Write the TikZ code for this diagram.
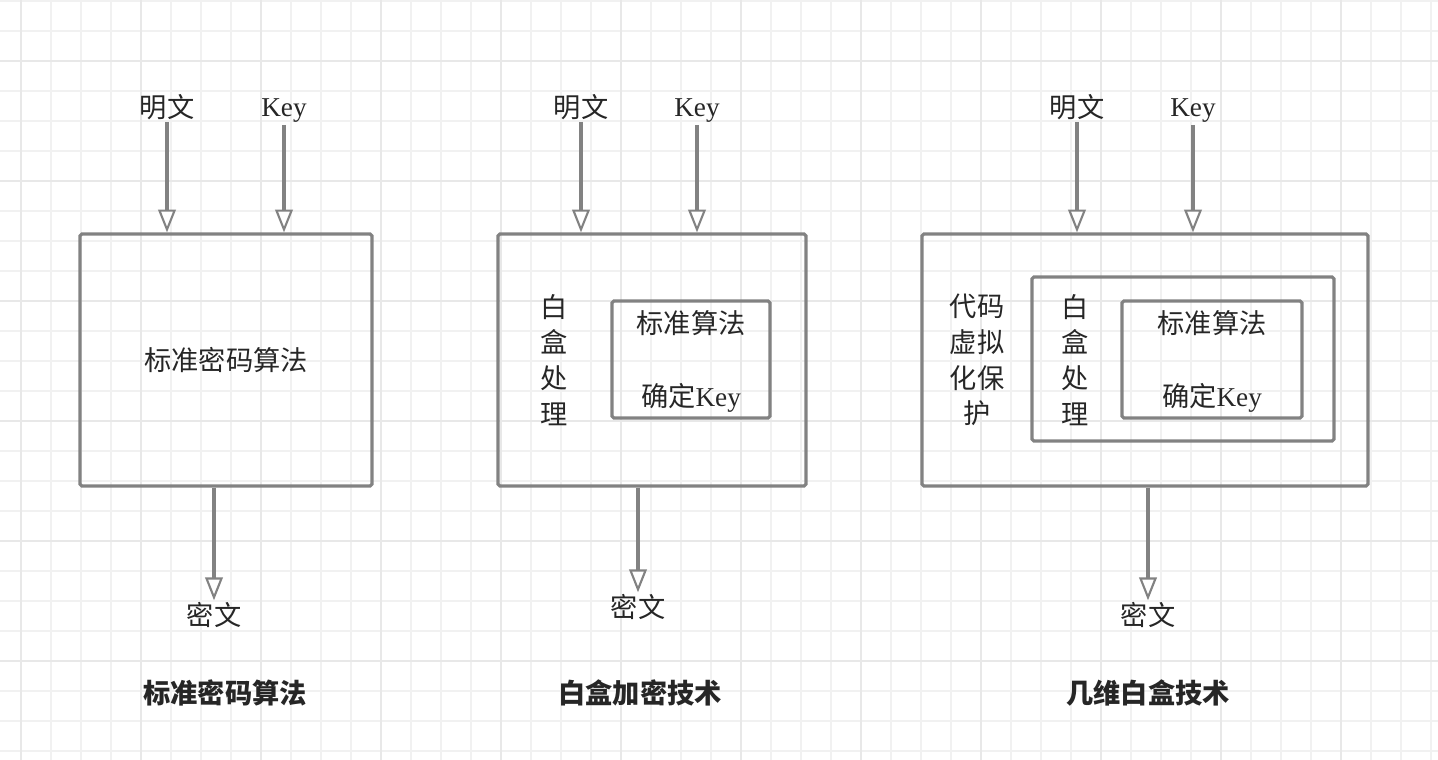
\documentclass[tikz,border=0pt]{standalone}
\usepackage{fontspec}
\setmainfont{Liberation Serif}
\newfontfamily\cjk{Noto Sans CJK SC}
\newcommand{\zh}[1]{{\cjk #1}}
\usetikzlibrary{arrows.meta,positioning}
\definecolor{linegray}{HTML}{828282}
\definecolor{inkgray}{HTML}{262626}
\definecolor{gridminor}{HTML}{F1F1F1}
\definecolor{gridmajor}{HTML}{E8E8E8}
\tikzset{
  lbl/.style={text=inkgray, font=\fontsize{15.5}{20.4}\selectfont, inner sep=1pt, align=center},
  title/.style={lbl, font=\fontsize{15.5}{20.4}\selectfont\bfseries},
  box/.style={draw=linegray, line width=1.8pt, rounded corners=1pt},
  flow/.style={draw=linegray, line width=2pt,
    -{Triangle[fill=white, line width=1.2pt, length=13pt, width=10pt]}},
}
\begin{document}
\begin{tikzpicture}[x=0.02cm, y=-0.02cm]
\useasboundingbox (0,0) rectangle (1438,760);
% grid background
\foreach \i in {0,...,47} \draw[gridminor, line width=1.1pt] ({20.7+30*\i},0) -- ++(0,760);
\foreach \j in {0,...,25} \draw[gridminor, line width=1.1pt] (0,{0.7+30*\j}) -- ++(1438,0);
\foreach \i in {0,...,11} \draw[gridmajor, line width=1.2pt] ({20.7+120*\i},0) -- ++(0,760);
\foreach \j in {0,...,5} \draw[gridmajor, line width=1.2pt] (0,{60.7+120*\j}) -- ++(1438,0);

% panel 1: standard algorithm
\node[lbl] (plain1) at (167,107) {\zh{明文}};
\node[lbl] (key1) at (284,111) {Key};
\node[box, lbl, minimum width=5.84cm, minimum height=5.04cm] (std) at (226,360) {\zh{标准密码算法}};
\node[lbl] (ct1) at (214,615) {\zh{密文}};
\draw[flow] (plain1.south) -- (plain1.south |- std.north);
\draw[flow] (key1.south) -- (key1.south |- std.north);
\draw[flow] (std.south -| ct1) -- (ct1.north);
\node[title] (t1) at (225,693) {\zh{标准密码算法}};

% panel 2: white box
\node[lbl] (plain2) at (581,107) {\zh{明文}};
\node[lbl] (key2) at (697,111) {Key};
\node[box, minimum width=6.16cm, minimum height=5.04cm] (wb) at (652,360) {};
\node[box, minimum width=3.16cm, minimum height=2.34cm] (core2) at (691,359.5) {};
\node[lbl] (alg2) at (691,323) {\zh{标准算法}};
\node[lbl] (fix2) at (691,398) {\zh{确定}Key};
\node[lbl] (wbv2) at (554,360) {\zh{白}\\\zh{盒}\\\zh{处}\\\zh{理}};
\node[lbl] (ct2) at (638,607) {\zh{密文}};
\draw[flow] (plain2.south) -- (plain2.south |- wb.north);
\draw[flow] (key2.south) -- (key2.south |- wb.north);
\draw[flow] (wb.south -| ct2) -- (ct2.north);
\node[title] (t2) at (640,693) {\zh{白盒加密技术}};

% panel 3: kiwi white box
\node[lbl] (plain3) at (1077,107) {\zh{明文}};
\node[lbl] (key3) at (1193,111) {Key};
\node[box, minimum width=8.92cm, minimum height=5.04cm] (kiwi) at (1145,360) {};
\node[box, minimum width=6.04cm, minimum height=3.28cm] (wb3) at (1183,359) {};
\node[box, minimum width=3.6cm, minimum height=2.34cm] (core3) at (1212,359.5) {};
\node[lbl] (alg3) at (1212,323) {\zh{标准算法}};
\node[lbl] (fix3) at (1212,398) {\zh{确定}Key};
\node[lbl] (vmp) at (977,360) {\zh{代码}\\\zh{虚拟}\\\zh{化保}\\\zh{护}};
\node[lbl] (wbv3) at (1075,360) {\zh{白}\\\zh{盒}\\\zh{处}\\\zh{理}};
\node[lbl] (ct3) at (1148,615) {\zh{密文}};
\draw[flow] (plain3.south) -- (plain3.south |- kiwi.north);
\draw[flow] (key3.south) -- (key3.south |- kiwi.north);
\draw[flow] (kiwi.south -| ct3) -- (ct3.north);
\node[title] (t3) at (1148,693) {\zh{几维白盒技术}};
\end{tikzpicture}
\end{document}
